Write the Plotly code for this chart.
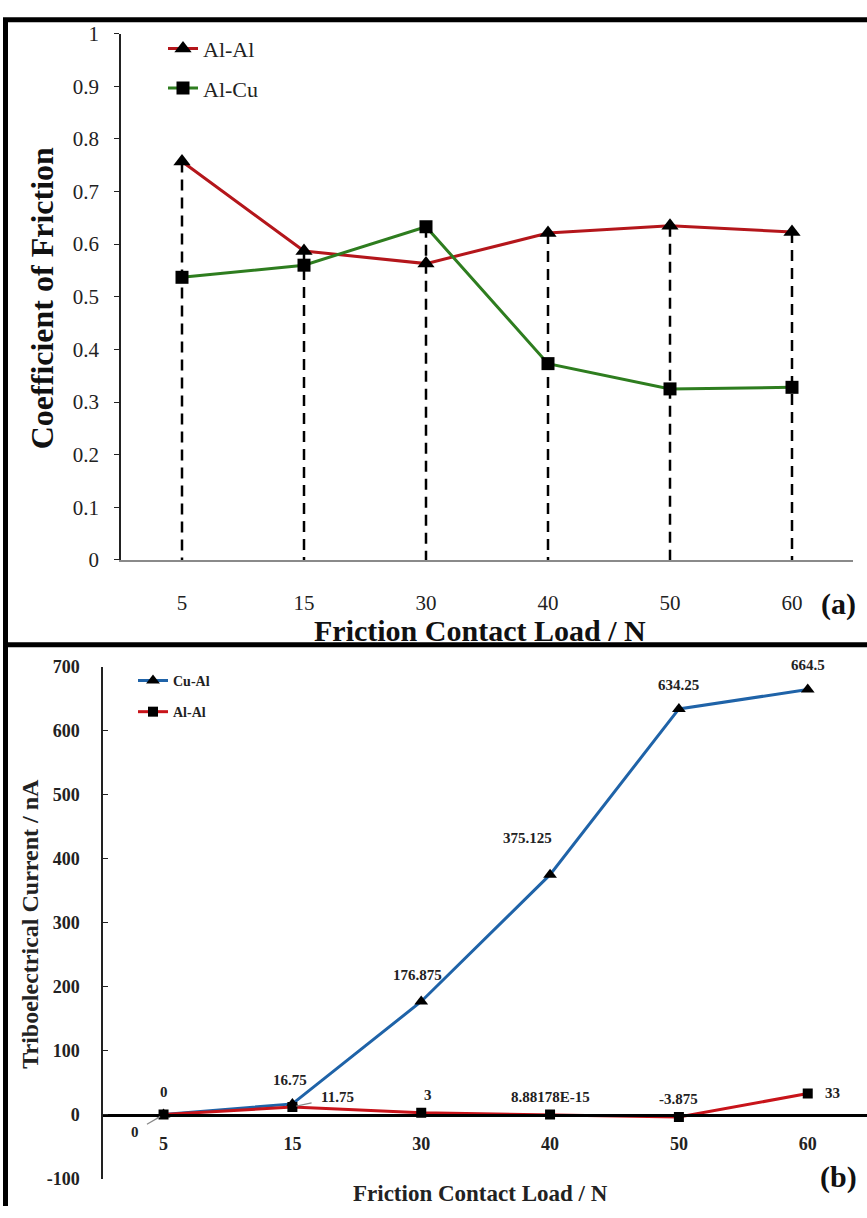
import numpy as np
import plotly.graph_objects as go

W, H = 867, 1218

# ---------------- data ----------------
loads = ["5", "15", "30", "40", "50", "60"]
cof_alal = [0.757, 0.587, 0.563, 0.621, 0.635, 0.623]
cof_alcu = [0.537, 0.560, 0.633, 0.373, 0.325, 0.328]

cur_cual = [0, 16.75, 176.875, 375.125, 634.25, 664.5]
cur_alal = [0, 11.75, 3, 8.88178e-15, -3.875, 33]
cur_cual_labels = ["0", "16.75", "176.875", "375.125", "634.25", "664.5"]
cur_alal_labels = ["0", "11.75", "3", "8.88178E-15", "-3.875", "33"]

cof_ticks = [0, 0.1, 0.2, 0.3, 0.4, 0.5, 0.6, 0.7, 0.8, 0.9, 1]
cof_ticktext = ["0", "0.1", "0.2", "0.3", "0.4", "0.5", "0.6", "0.7", "0.8", "0.9", "1"]
cur_ticks = [-100, 0, 100, 200, 300, 400, 500, 600, 700]
cur_ticktext = ["-100", "0", "100", "200", "300", "400", "500", "600", "700"]

SERIF = "Liberation Serif, Times New Roman, serif"
RED_A = "#B4161B"
GREEN = "#2E7D1F"
BLUE = "#1F63A8"
RED_B = "#C8141A"


def px_x(x):
    return x / W


def px_y(y):
    return 1 - y / H


fig = go.Figure()

# ---------------- panel (a) ----------------
drop_x, drop_y = [], []
for c, a, b in zip(loads, cof_alal, cof_alcu):
    drop_x += [c, c, None]
    drop_y += [max(a, b), 0, None]
fig.add_trace(go.Scatter(x=drop_x, y=drop_y, mode="lines", xaxis="x", yaxis="y",
                         line=dict(color="black", width=2.5, dash="11px,7px"),
                         showlegend=False, hoverinfo="skip"))
fig.add_trace(go.Scatter(x=loads, y=cof_alal, mode="lines+markers", name="Al-Al",
                         xaxis="x", yaxis="y", legend="legend", legendgroup="a1",
                         line=dict(color=RED_A, width=3),
                         marker=dict(symbol="triangle-up", size=15, color="black")))
fig.add_trace(go.Scatter(x=loads, y=cof_alcu, mode="lines+markers", name="Al-Cu",
                         xaxis="x", yaxis="y", legend="legend", legendgroup="a2",
                         line=dict(color=GREEN, width=3),
                         marker=dict(symbol="square", size=13, color="black")))

# ---------------- panel (b) ----------------
fig.add_trace(go.Scatter(x=loads, y=cur_cual, mode="lines+markers", name="Cu-Al",
                         xaxis="x2", yaxis="y2", legend="legend2", legendgroup="b1",
                         line=dict(color=BLUE, width=3),
                         marker=dict(symbol="triangle-up", size=12, color="black")))
fig.add_trace(go.Scatter(x=loads, y=cur_alal, mode="lines+markers", name="Al-Al",
                         xaxis="x2", yaxis="y2", legend="legend2", legendgroup="b2",
                         line=dict(color=RED_B, width=3),
                         marker=dict(symbol="square", size=10, color="black")))

# domains
xa_dom = [px_x(121), px_x(853)]
ya_dom = [px_y(559), px_y(22)]
xb_dom = [px_x(103), 1.0]
yb_dom = [px_y(1190), px_y(668)]
yb_min, yb_max = -100, 700
zero_pos = yb_dom[0] + (0 - yb_min) / (yb_max - yb_min) * (yb_dom[1] - yb_dom[0])

LBL = dict(family=SERIF, size=15, color="#222", weight="bold")

# data labels for panel (b) (x given as category index)
ann = []
cu_offsets = [(0, 23), (-2, 24), (-4, 26), (-23, 37), (0, 24), (0, 25)]
for i, (v, t) in enumerate(zip(cur_cual, cur_cual_labels)):
    dx, dy = cu_offsets[i]
    ann.append(dict(x=i, y=v, xref="x2", yref="y2", text=t, showarrow=False,
                    xanchor="center", yanchor="middle",
                    xshift=dx, yshift=dy, font=LBL))
al_specs = [
    dict(showarrow=True, ax=-29, ay=17),
    dict(showarrow=True, ax=45, ay=-10),
    dict(showarrow=False, xshift=7, yshift=18),
    dict(showarrow=False, xshift=0, yshift=18),
    dict(showarrow=False, xshift=0, yshift=18),
    dict(showarrow=False, xshift=25, yshift=0),
]
for i, (v, t) in enumerate(zip(cur_alal, cur_alal_labels)):
    s = al_specs[i]
    a = dict(x=i, y=v, xref="x2", yref="y2", text=t, font=LBL,
             xanchor="center", yanchor="middle")
    if s.get("showarrow"):
        a.update(showarrow=True, ax=s["ax"], ay=s["ay"], arrowhead=0,
                 arrowwidth=1.2, arrowcolor="#888", standoff=4, startstandoff=8)
    else:
        a.update(showarrow=False, xshift=s["xshift"], yshift=s["yshift"])
    ann.append(a)

# titles / panel letters
ann += [
    dict(x=px_x(42), y=px_y(292), text="Coefficient of Friction", textangle=-90,
         font=dict(family=SERIF, size=32, color="#111", weight="bold")),
    dict(x=px_x(480), y=px_y(631), text="Friction Contact Load / N",
         font=dict(family=SERIF, size=30, color="#111", weight="bold")),
    dict(x=px_x(838), y=px_y(604), text="(a)",
         font=dict(family=SERIF, size=30, color="#111", weight="bold")),
    dict(x=px_x(30), y=px_y(930), text="Triboelectrical Current / nA", textangle=-90,
         font=dict(family=SERIF, size=24, color="#222", weight="bold")),
    dict(x=px_x(480), y=px_y(1205), text="Friction Contact Load / N",
         font=dict(family=SERIF, size=23, color="#222", weight="bold")),
    dict(x=px_x(838), y=px_y(1188), text="(b)",
         font=dict(family=SERIF, size=30, color="#111", weight="bold")),
]
for a in ann[-6:]:
    a.update(xref="paper", yref="paper", showarrow=False, xanchor="center", yanchor="middle")

shapes = [
    dict(type="line", xref="paper", yref="paper", x0=px_x(5.5), x1=px_x(5.5),
         y0=px_y(6), y1=0, line=dict(color="black", width=5)),
    dict(type="line", xref="paper", yref="paper", x0=px_x(3), x1=1,
         y0=px_y(8), y1=px_y(8), line=dict(color="black", width=5)),
    dict(type="line", xref="paper", yref="paper", x0=px_x(3), x1=1,
         y0=px_y(645.5), y1=px_y(645.5), line=dict(color="black", width=5)),
]

fig.update_layout(
    width=W, height=H,
    margin=dict(l=0, r=0, t=0, b=0),
    paper_bgcolor="white", plot_bgcolor="rgba(0,0,0,0)",
    font=dict(family=SERIF, color="#222"),
    showlegend=True,
    xaxis=dict(domain=xa_dom, anchor="y", type="category", range=[-0.5, 5.5],
               showline=True, linecolor="#8a8a8a", linewidth=1.5, ticks="",
               showgrid=False, zeroline=False,
               tickfont=dict(family=SERIF, size=21, color="#222"), ticklabelstandoff=23),
    yaxis=dict(domain=ya_dom, anchor="x", range=[0, 1], tickvals=cof_ticks, ticktext=cof_ticktext,
               showline=True, linecolor="#222", linewidth=1.5, ticks="outside", ticklen=5,
               tickcolor="#222", showgrid=False, zeroline=False,
               tickfont=dict(family=SERIF, size=21, color="#222"), ticklabelstandoff=11),
    xaxis2=dict(domain=xb_dom, anchor="free", position=zero_pos, type="category",
                range=[-0.47, 5.46], showline=True, linecolor="black", linewidth=2.5,
                ticks="", showgrid=False, zeroline=False,
                tickfont=dict(family=SERIF, size=18, color="#222", weight="bold"),
                ticklabelstandoff=12),
    yaxis2=dict(domain=yb_dom, anchor="x2", range=[yb_min, yb_max], tickvals=cur_ticks,
                ticktext=cur_ticktext, showline=True, linecolor="#222", linewidth=1.5,
                ticks="inside", ticklen=5, tickcolor="#222", showgrid=False, zeroline=False,
                tickfont=dict(family=SERIF, size=18, color="#222", weight="bold"),
                ticklabelstandoff=18),
    legend=dict(x=px_x(163), y=px_y(16), xanchor="left", yanchor="top",
                bgcolor="rgba(0,0,0,0)", font=dict(family=SERIF, size=22, color="#222"),
                tracegroupgap=8, itemwidth=30, traceorder="grouped"),
    legend2=dict(x=px_x(133), y=px_y(666), xanchor="left", yanchor="top",
                 bgcolor="rgba(0,0,0,0)",
                 font=dict(family=SERIF, size=14, color="#222", weight="bold"),
                 tracegroupgap=10, itemwidth=30, traceorder="grouped"),
    annotations=ann,
    shapes=shapes,
)

fig.write_html("out.html")
